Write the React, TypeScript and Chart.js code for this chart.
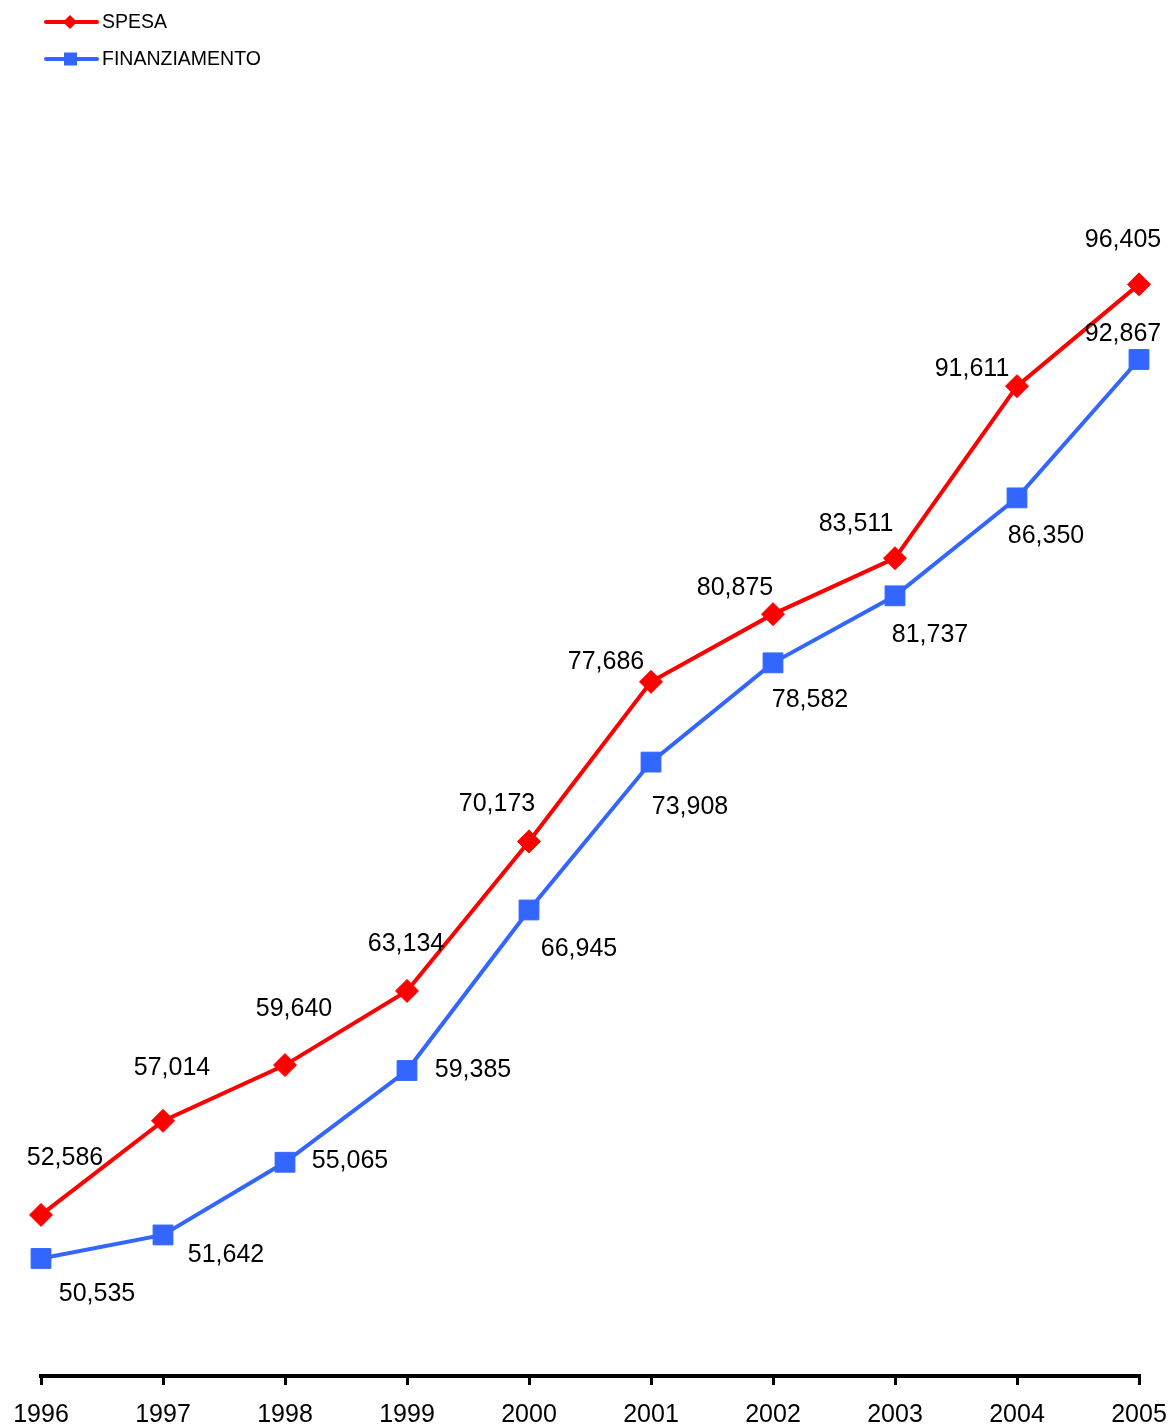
import React, { useEffect, useRef } from "react";
import { Chart, registerables } from "chart.js";

Chart.register(...registerables);

const years = ["1996", "1997", "1998", "1999", "2000", "2001", "2002", "2003", "2004", "2005"];
const spesa = [52586, 57014, 59640, 63134, 70173, 77686, 80875, 83511, 91611, 96405];
const finanziamento = [50535, 51642, 55065, 59385, 66945, 73908, 78582, 81737, 86350, 92867];

// Where each value label sits relative to its marker (text centre, px)
const spesaLabelOffsets: [number, number][] = [
  [24, -57], [9, -53], [9, -56], [-1, -47], [-32, -37],
  [-45, -20], [-38, -26], [-39, -34], [-45, -17], [-16, -44],
];
const finLabelOffsets: [number, number][] = [
  [56, 36], [63, 20], [65, -1], [66, 0], [50, 39],
  [39, 45], [37, 37], [35, 39], [29, 38], [-16, -25],
];

const RED = "#FF0000";
const BLUE = "#3366FF";
const FONT = "'Liberation Sans', Arial, sans-serif";

const W = 1172;
const H = 1428;

const fmt = (v: number) => v.toLocaleString("en-US");

const valueLabels = {
  id: "valueLabels",
  afterDatasetsDraw(chart: any) {
    const ctx = chart.ctx;
    const offsets = [spesaLabelOffsets, finLabelOffsets];
    ctx.save();
    ctx.font = `25px ${FONT}`;
    ctx.fillStyle = "#000";
    ctx.textAlign = "center";
    ctx.textBaseline = "middle";
    chart.data.datasets.forEach((ds: any, di: number) => {
      const meta = chart.getDatasetMeta(di);
      meta.data.forEach((pt: any, i: number) => {
        const [dx, dy] = offsets[di][i];
        ctx.fillText(fmt(ds.data[i]), pt.x + dx, pt.y + dy);
      });
    });
    ctx.restore();
  },
};

const lineLegend = {
  id: "lineLegend",
  afterDraw(chart: any) {
    const ctx = chart.ctx;
    const rows = [
      { label: "SPESA", color: RED, shape: "diamond", y: 22 },
      { label: "FINANZIAMENTO", color: BLUE, shape: "square", y: 59 },
    ];
    ctx.save();
    rows.forEach((r) => {
      ctx.strokeStyle = r.color;
      ctx.fillStyle = r.color;
      ctx.lineWidth = 4;
      ctx.lineCap = "round";
      ctx.beginPath();
      ctx.moveTo(46, r.y);
      ctx.lineTo(97, r.y);
      ctx.stroke();
      ctx.beginPath();
      if (r.shape === "diamond") {
        const s = 7;
        ctx.moveTo(70, r.y - s);
        ctx.lineTo(70 + s, r.y);
        ctx.lineTo(70, r.y + s);
        ctx.lineTo(70 - s, r.y);
        ctx.closePath();
      } else {
        ctx.rect(64, r.y - 6.5, 13, 13);
      }
      ctx.fill();
      ctx.fillStyle = "#000";
      ctx.font = `19.5px ${FONT}`;
      ctx.textAlign = "left";
      ctx.textBaseline = "middle";
      ctx.fillText(r.label, 102, r.y + 1);
    });
    ctx.restore();
  },
};

export default function App() {
  const ref = useRef<HTMLCanvasElement | null>(null);

  useEffect(() => {
    if (!ref.current) return;
    Chart.defaults.font.family = FONT;
    const chart = new Chart(ref.current, {
      type: "line",
      data: {
        labels: years,
        datasets: [
          {
            label: "SPESA",
            data: spesa,
            borderColor: RED,
            backgroundColor: RED,
            borderWidth: 4,
            pointStyle: "rectRot",
            pointRadius: 11.5,
            pointBorderWidth: 1,
            pointBorderColor: RED,
            pointBackgroundColor: RED,
            tension: 0,
          },
          {
            label: "FINANZIAMENTO",
            data: finanziamento,
            borderColor: BLUE,
            backgroundColor: BLUE,
            borderWidth: 4,
            pointStyle: "rect",
            pointRadius: 14,
            pointBorderWidth: 1,
            pointBorderColor: BLUE,
            pointBackgroundColor: BLUE,
            tension: 0,
          },
        ],
      },
      options: {
        responsive: false,
        animation: false,
        devicePixelRatio: 1,
        layout: { padding: { left: 41, right: 33, top: 208, bottom: 0 } },
        plugins: {
          legend: { display: false },
          tooltip: { enabled: false },
        },
        scales: {
          x: {
            offset: false,
            afterFit: (scale: any) => {
              scale.height = 52;
              scale.paddingLeft = 0;
              scale.paddingRight = 0;
            },
            grid: {
              display: true,
              drawOnChartArea: false,
              drawTicks: true,
              tickLength: 9,
              lineWidth: 3,
              color: "#000",
            },
            border: { display: true, color: "#000", width: 4 },
            ticks: {
              color: "#000",
              font: { size: 25, family: FONT },
              padding: 15,
              maxRotation: 0,
              autoSkip: false,
            },
          },
          y: {
            display: false,
            min: 45000,
            max: 100000,
          },
        },
      },
      plugins: [valueLabels, lineLegend],
    });
    return () => chart.destroy();
  }, []);

  return (
    <div style={{ position: "absolute", left: 0, top: 0, width: W, height: H, background: "#fff" }}>
      <canvas ref={ref} width={W} height={H} style={{ display: "block" }} />
    </div>
  );
}
